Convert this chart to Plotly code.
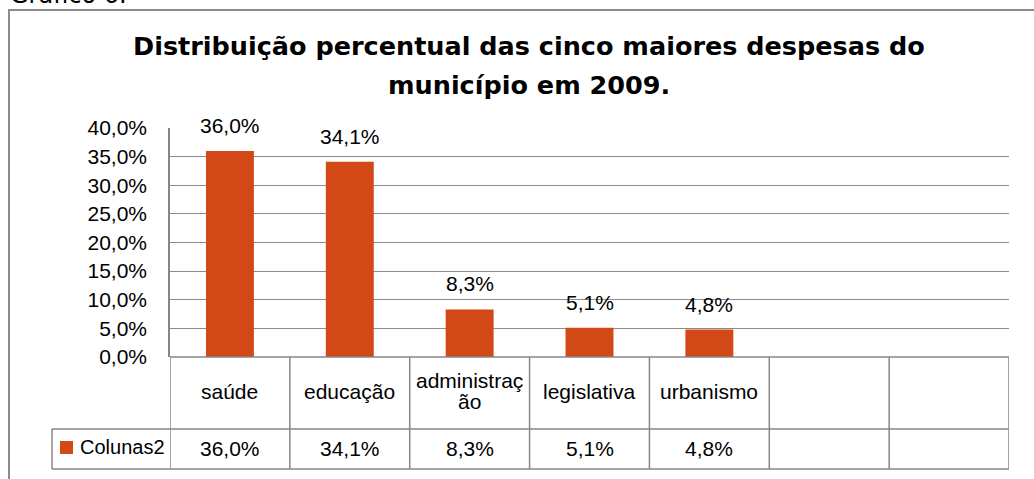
import plotly.graph_objects as go

# ---------------- data ----------------
categories = ["saúde", "educação", "administração", "legislativa", "urbanismo"]
header_labels = ["saúde", "educação", "administraç\não", "legislativa", "urbanismo"]
values = [36.0, 34.1, 8.3, 5.1, 4.8]
series_name = "Colunas2"
n_columns = 7  # the data table shows two extra empty columns
y_ticks = [0, 5, 10, 15, 20, 25, 30, 35, 40]
title_lines = ["Distribuição percentual das cinco maiores despesas do",
               "município em 2009."]
caption = "Gráfico 6."

# ---------------- style / layout ----------------
W, H = 1034, 479
PLOT_L, PLOT_R, PLOT_T, PLOT_B = 170, 1009, 128, 357
ROW1_B, ROW2_B, LEG_L = 429, 469, 52
BAR_COLOR = "#D34817"
GRID = "#8c8c8c"
LINE = "#868686"
FONT = "Liberation Sans, Arial, sans-serif"
TITLE_FONT = "DejaVu Sans, Liberation Sans, sans-serif"


def px(x):
    return x / W


def py(y):
    return 1 - y / H


def fmt(v):
    return f"{v:.1f}".replace(".", ",") + "%"


fig = go.Figure()
fig.add_trace(go.Bar(x=categories, y=values, name=series_name,
                     marker=dict(color=BAR_COLOR, line=dict(width=0)),
                     showlegend=False, hoverinfo="skip"))

shapes = []
# outer chart border (left and top visible)
shapes.append(dict(type="path", xref="paper", yref="paper",
                   path=f"M {px(9)} {py(H + 5)} L {px(9)} {py(10)} L {px(W + 5)} {py(10)}",
                   line=dict(color=GRID, width=2)))
# table horizontal lines
for yy in [PLOT_B, ROW1_B, ROW2_B]:
    shapes.append(dict(type="line", xref="x", yref="paper",
                       x0=-0.5, x1=n_columns - 0.5, y0=py(yy), y1=py(yy),
                       line=dict(color=LINE, width=1.5)))
for yy in [ROW1_B, ROW2_B]:
    shapes.append(dict(type="line", xref="paper", yref="paper",
                       x0=px(LEG_L), x1=px(PLOT_L), y0=py(yy), y1=py(yy),
                       line=dict(color=LINE, width=1.5)))
# table vertical lines
for i in range(n_columns + 1):
    shapes.append(dict(type="line", xref="x", yref="paper",
                       x0=i - 0.5, x1=i - 0.5, y0=py(PLOT_B), y1=py(ROW2_B),
                       line=dict(color=LINE, width=1.5)))
shapes.append(dict(type="line", xref="paper", yref="paper",
                   x0=px(LEG_L), x1=px(LEG_L), y0=py(ROW1_B), y1=py(ROW2_B),
                   line=dict(color=LINE, width=1.5)))
# legend key
shapes.append(dict(type="rect", xref="paper", yref="paper",
                   x0=px(60), x1=px(73), y0=py(454), y1=py(441),
                   fillcolor=BAR_COLOR, line=dict(width=0)))

annotations = []
# caption (cut off at the top of the picture)
annotations.append(dict(text=caption, xref="paper", yref="paper", x=px(8), y=1,
                        xanchor="left", yanchor="bottom", yshift=-11, showarrow=False,
                        font=dict(family=TITLE_FONT, size=24, color="black")))
# title
for line, cy in zip(title_lines, [46, 85]):
    annotations.append(dict(text=f"<b>{line}</b>", xref="paper", yref="paper",
                            x=px(529), y=py(cy), xanchor="center", yanchor="middle",
                            showarrow=False,
                            font=dict(family=TITLE_FONT, size=25.5, color="black")))
# data labels
for c, v in zip(categories, values):
    annotations.append(dict(text=fmt(v), x=c, y=v, xref="x", yref="y",
                            xanchor="center", yanchor="bottom", yshift=12,
                            showarrow=False,
                            font=dict(family=FONT, size=21, color="black")))
# table header labels and values
for i, (lab, v) in enumerate(zip(header_labels, values)):
    parts = lab.split("\n")
    n = len(parts)
    for j, part in enumerate(parts):
        annotations.append(dict(text=part, x=i, y=py(391), xref="x", yref="paper",
                                xanchor="center", yanchor="middle",
                                yshift=-(j - (n - 1) / 2) * 21, showarrow=False,
                                font=dict(family=FONT, size=21, color="black")))
    annotations.append(dict(text=fmt(v), x=i, y=py(448), xref="x", yref="paper",
                            xanchor="center", yanchor="middle", showarrow=False,
                            font=dict(family=FONT, size=21, color="black")))
annotations.append(dict(text=series_name, x=px(78), y=py(447), xref="paper", yref="paper",
                        xanchor="left", yanchor="middle", showarrow=False,
                        font=dict(family=FONT, size=20, color="black")))

fig.update_layout(
    width=W, height=H, autosize=False,
    margin=dict(l=0, r=0, t=0, b=0, autoexpand=False),
    paper_bgcolor="white", plot_bgcolor="white",
    bargap=0.6,
    shapes=shapes, annotations=annotations,
    xaxis=dict(domain=[px(PLOT_L), px(PLOT_R)], range=[-0.5, n_columns - 0.5],
               categoryorder="array", categoryarray=categories,
               showticklabels=False, showgrid=False, zeroline=False, showline=False,
               ticks="", fixedrange=True),
    yaxis=dict(domain=[py(PLOT_B), py(PLOT_T)], range=[0, 40],
               tickmode="array", tickvals=y_ticks, ticktext=[fmt(t) for t in y_ticks],
               showgrid=True, gridcolor=GRID, gridwidth=1, zeroline=False,
               showline=True, linecolor=LINE, linewidth=1.5, ticks="",
               ticklabelstandoff=17,
               tickfont=dict(family=FONT, size=21, color="black"), fixedrange=True),
    font=dict(family=FONT, color="black"),
)

# remove the browser's default 8px body margin so the figure fills the window
fig.write_html("out.html", config={"displayModeBar": False},
               post_script="document.body.style.margin='0px';")
